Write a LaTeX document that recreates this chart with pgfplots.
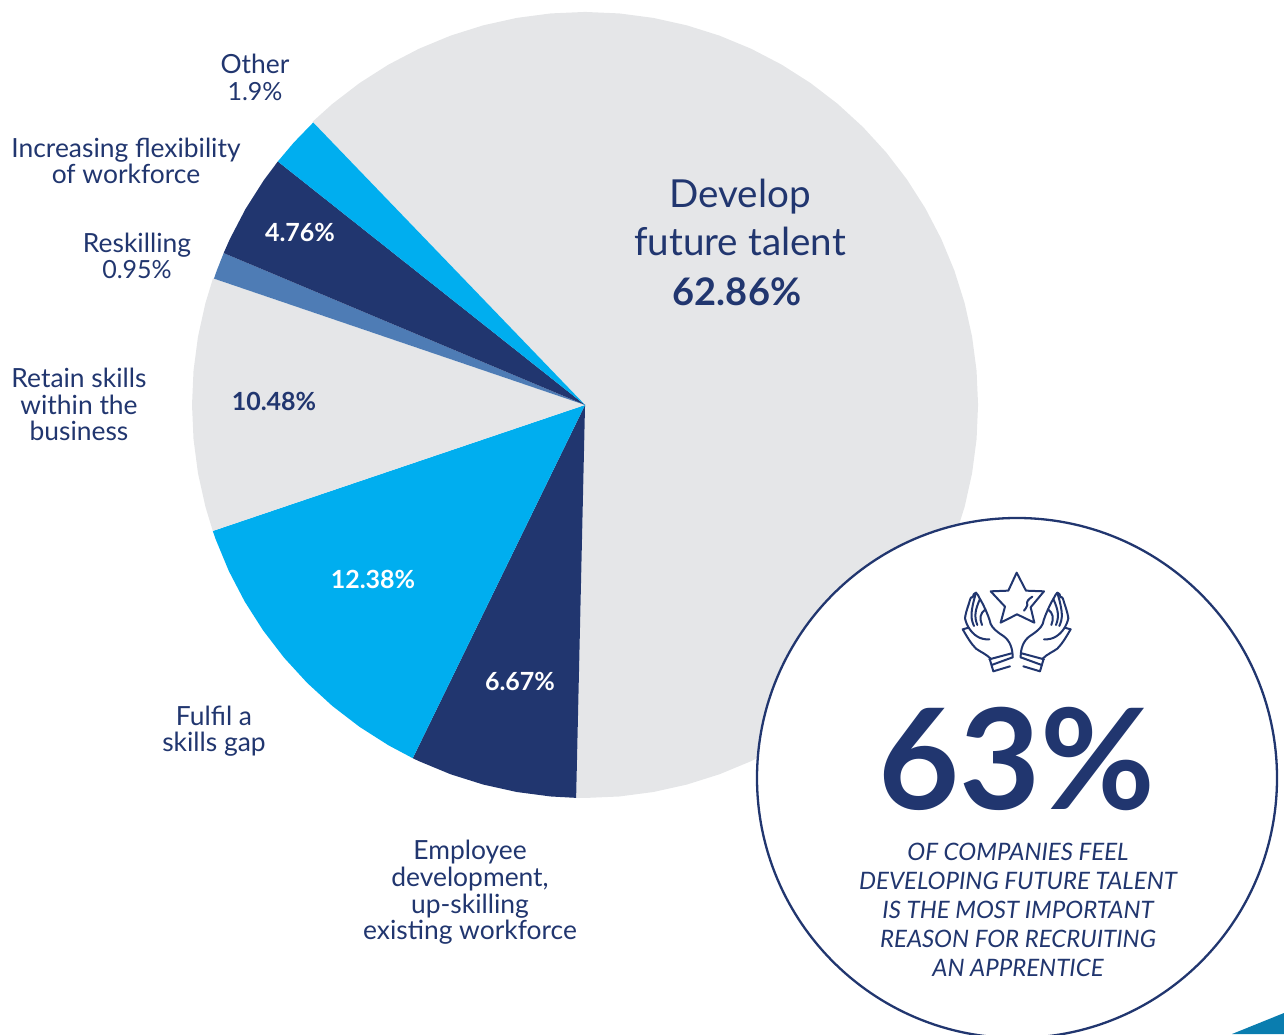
\documentclass[border=0pt]{standalone}
\usepackage{pgfplots}
\pgfplotsset{compat=1.18}
\usepgfplotslibrary{polar}
\usepackage{fontspec}
\setmainfont{Lato}
\definecolor{navy}{HTML}{21366F}
\definecolor{cyanb}{HTML}{00AEEF}
\definecolor{greyp}{HTML}{E5E6E8}
\definecolor{midb}{HTML}{4E7CB5}
\definecolor{teal}{HTML}{0A7DAF}
\newcommand{\T}[3]{\node[anchor=base,inner sep=0pt,text=navy] at (#1,#2) {#3};}
\newcommand{\W}[3]{\node[anchor=base,inner sep=0pt,text=white] at (#1,#2) {#3};}
\newcommand{\hand}{%
  \draw (338,322) .. controls (338,295) and (330,272) .. (310,258)
        .. controls (290,245) and (278,235) .. (272,222)
        .. controls (268,205) and (262,192) .. (256,178)
        .. controls (250,165) and (245,155) .. (240,147)
        .. controls (236,140) and (232,130) .. (228,128)
        .. controls (222,128) and (220,135) .. (218,142)
        .. controls (212,138) and (210,150) .. (207,160)
        .. controls (200,180) and (196,195) .. (195,205)
        .. controls (198,218) and (202,226) .. (206,233)
        -- (188,238)
        .. controls (200,258) and (212,280) .. (228,296)
        .. controls (242,306) and (258,312) .. (272,326);
  \draw (206,233) .. controls (220,255) and (240,270) .. (268,268);
  \draw (222,228) .. controls (212,205) and (210,190) .. (228,128);
  \draw (232,225) .. controls (222,200) and (225,180) .. (240,147);
  \draw (246,225) .. controls (238,205) and (240,190) .. (256,178);
  \draw (268,328) -- (335,310);
  \draw (270,330) -- (280,364) -- (330,349);
  \draw (275,345) -- (338,322);
}
\begin{document}
\begin{tikzpicture}[x=1pt,y=1pt]
\useasboundingbox (0,0) rectangle (1284,1034);
\begin{axis}[at={(0,0)},anchor=south west,scale only axis,width=1284pt,height=1034pt,
  xmin=-585,xmax=699,ymin=-629,ymax=405,hide axis,clip=false]
% Develop future talent 62.86
\addplot[data cs=polar,fill=greyp,draw=none] coordinates {(0,0)(133.9,393)(130,393)(125,393)(120,393)(115,393)(110,393)(105,393)(100,393)(95,393)(90,393)(85,393)(80,393)(75,393)(70,393)(65,393)(60,393)(55,393)(50,393)(45,393)(40,393)(35,393)(30,393)(25,393)(20,393)(15,393)(10,393)(5,393)(0,393)(-5,393)(-10,393)(-15,393)(-20,393)(-25,393)(-30,393)(-35,393)(-40,393)(-45,393)(-50,393)(-55,393)(-60,393)(-65,393)(-70,393)(-75,393)(-80,393)(-85,393)(-90,393)(-91.3,393)} -- cycle;
% Employee development 6.67
\addplot[data cs=polar,fill=navy,draw=none] coordinates {(0,0)(268.7,393)(265,393)(260,393)(255,393)(250,393)(245,393)(244,393)} -- cycle;
% Fulfil a skills gap 12.38
\addplot[data cs=polar,fill=cyanb,draw=none] coordinates {(0,0)(244,393)(240,393)(235,393)(230,393)(225,393)(220,393)(215,393)(210,393)(205,393)(200,393)(198.7,393)} -- cycle;
% Retain skills 10.48
\addplot[data cs=polar,fill=greyp,draw=none] coordinates {(0,0)(198.7,393)(195,393)(190,393)(185,393)(180,393)(175,393)(170,393)(165,393)(161.2,393)} -- cycle;
% Reskilling 0.95
\addplot[data cs=polar,fill=midb,draw=none] coordinates {(0,0)(161.2,392)(160,392)(157.2,392)} -- cycle;
% Increasing flexibility 4.76
\addplot[data cs=polar,fill=navy,draw=none] coordinates {(0,0)(157.2,392)(155,392)(150,392)(145,392)(141.6,392)} -- cycle;
% Other 1.9
\addplot[data cs=polar,fill=cyanb,draw=none] coordinates {(0,0)(141.6,392)(138,392)(133.9,392)} -- cycle;
\end{axis}
\begin{scope}[y=-1pt,yshift=1034pt]
\clip (0,0) rectangle (1284,1034);
\fill[teal] (1232,1034) -- (1284,1013) -- (1284,1034) -- cycle;
\draw[navy,line width=2.3pt,fill=white] (1017,778) circle (260);
\fontsize{26.4}{27}\selectfont
\T{255}{74}{Other}
\T{126}{158}{Increasing flexibility}
\T{126}{184}{of workforce}
\T{137}{253}{Reskilling}
\T{79}{388}{Retain skills}
\T{79}{415}{within the}
\T{79}{441}{business}
\T{214}{725}{Fulfil a}
\T{214}{751}{skills gap}
\T{470}{859}{Employee}
\T{470}{886}{development,}
\T{470}{913}{up-skilling}
\T{470}{939}{existing workforce}
\fontsize{25}{27}\selectfont
\T{255}{101}{1.9\%}
\T{137}{279}{0.95\%}
\W{300}{242}{\bfseries 4.76\%}
\T{274}{411}{\bfseries 10.48\%}
\W{373}{589}{\bfseries 12.38\%}
\W{520}{690}{\bfseries 6.67\%}
\fontsize{38.6}{40}\selectfont
\T{740}{208}{Develop}
\T{740}{256}{future talent}
\fontsize{38}{40}\selectfont
\T{737}{306}{\bfseries 62.86\%}
\node[anchor=base,inner sep=0pt,text=navy] at (1017,809) {\bfseries\fontsize{140}{140}\selectfont 63\%};
\fontsize{24}{29}\selectfont\itshape
\T{1018}{860}{OF COMPANIES FEEL}
\T{1018}{889}{DEVELOPING FUTURE TALENT}
\T{1018}{918}{IS THE MOST IMPORTANT}
\T{1018}{947}{REASON FOR RECRUITING}
\T{1018}{976}{AN APPRENTICE}
\begin{scope}[shift={(900,550)},x=0.3333pt,y=-0.3333pt,navy,line width=2pt,line join=round,line cap=round]
\draw (350,68) -- (378,122) -- (432,124) -- (392,172) -- (403,218) -- (351,193) -- (302,218) -- (315,170) -- (272,124) -- (325,122) -- cycle;
\draw (397,140) .. controls (385,148) and (378,155) .. (382,165) .. controls (380,172) and (376,178) .. (372,182);
\hand
\begin{scope}[shift={(700,0)},xscale=-1]
\hand
\end{scope}
\end{scope}
\end{scope}
\end{tikzpicture}
\end{document}
